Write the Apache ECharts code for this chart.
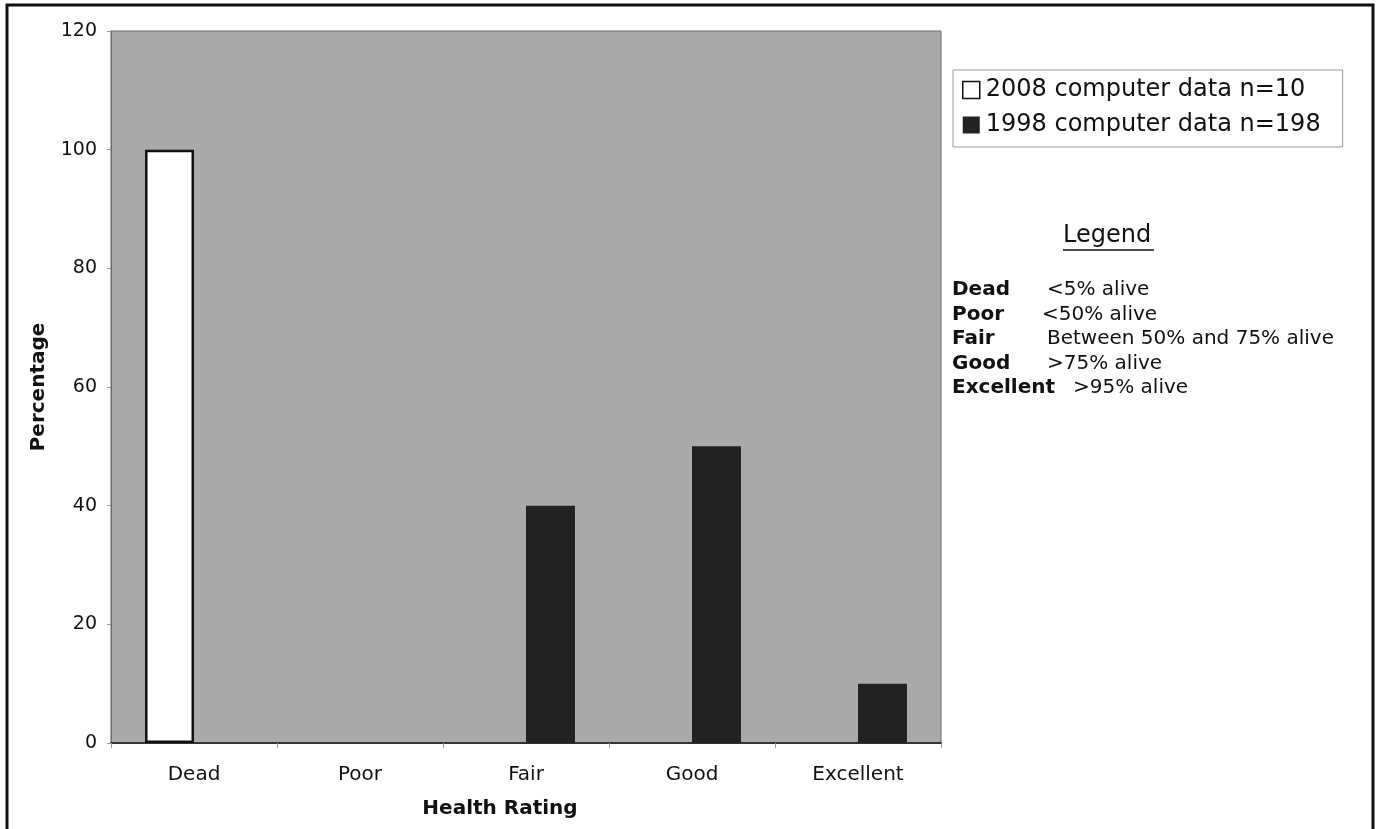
<!DOCTYPE html>
<html>
<head>
<meta charset="utf-8">
<script src="https://cdn.jsdelivr.net/npm/echarts@6/dist/echarts.min.js"></script>
<style>
  html, body { margin: 0; padding: 0; background: #ffffff; }
  #chart { width: 1379px; height: 829px; }
</style>
</head>
<body>
<div id="chart"></div>
<script>
// Health rating distribution, two survey years
const categories = ['Dead', 'Poor', 'Fair', 'Good', 'Excellent'];
const series2008 = [100, 0, 0, 0, 0];
const series1998 = [0, 0, 40, 50, 10];
const seriesNames = ['2008 computer data n=10', '1998 computer data n=198'];
const yTicks = { min: 0, max: 120, interval: 20 };

// Key explaining each rating
const ratingKey = [
  ['Dead', '<5% alive'],
  ['Poor', '<50% alive'],
  ['Fair', 'Between 50% and 75% alive'],
  ['Good', '>75% alive'],
  ['Excellent', '>95% alive']
];

const FONT = 'DejaVu Sans, Verdana, sans-serif';
const chart = echarts.init(document.getElementById('chart'));

// Outlined bars: empty (zero) bars get no outline so nothing shows at the baseline
function outlinedData(values) {
  return values.map(function (v) {
    return v === 0 ? { value: v, itemStyle: { borderWidth: 0 } } : v;
  });
}

const keyX = 952;
const keyValueX = [1047, 1042, 1047, 1047, 1073];
const keyY = [292, 317, 341, 366, 390];
const keyGraphics = [];
ratingKey.forEach(function (row, i) {
  keyGraphics.push({
    type: 'text', left: keyX, top: keyY[i] - 12,
    style: { text: row[0], font: 'bold 20px ' + FONT, fill: '#111' }
  });
  keyGraphics.push({
    type: 'text', left: keyValueX[i], top: keyY[i] - 12,
    style: { text: row[1], font: '20px ' + FONT, fill: '#111' }
  });
});

chart.setOption({
  backgroundColor: '#ffffff',
  animation: false,
  textStyle: { fontFamily: FONT },
  grid: {
    left: 111, top: 31, width: 830, height: 712,
    show: true, backgroundColor: '#aaaaaa',
    borderColor: '#6a6a6a', borderWidth: 1,
    containLabel: false
  },
  legend: {
    orient: 'vertical',
    left: 953, top: 70,
    padding: [8, 22, 10, 9],
    itemGap: 11,
    itemWidth: 17, itemHeight: 17,
    borderColor: '#999', borderWidth: 1,
    backgroundColor: '#ffffff',
    textStyle: { fontSize: 24, color: '#111', fontFamily: FONT, padding: [0, 0, 0, 1] },
    data: [
      { name: seriesNames[0], icon: 'rect', itemStyle: { color: '#ffffff', borderColor: '#111', borderWidth: 1.5 } },
      { name: seriesNames[1], icon: 'rect', itemStyle: { color: '#222222' } }
    ]
  },
  xAxis: {
    type: 'category',
    data: categories,
    name: 'Health Rating',
    nameLocation: 'middle',
    nameGap: 56,
    nameTextStyle: { fontSize: 20, fontWeight: 'bold', color: '#111', fontFamily: FONT, padding: [0, 52, 0, 0] },
    axisLine: { show: true, lineStyle: { color: '#333', width: 2 } },
    axisTick: { show: true, length: 5, lineStyle: { color: '#999' } },
    axisLabel: { fontSize: 20, color: '#111', margin: 22, fontFamily: FONT }
  },
  yAxis: {
    type: 'value',
    min: yTicks.min, max: yTicks.max, interval: yTicks.interval,
    name: 'Percentage',
    nameLocation: 'middle',
    nameGap: 62,
    nameRotate: 90,
    nameTextStyle: { fontSize: 20, fontWeight: 'bold', color: '#111', fontFamily: FONT },
    axisLine: { show: true, lineStyle: { color: '#6a6a6a' } },
    axisTick: { show: true, length: 4, lineStyle: { color: '#999' } },
    splitLine: { show: false },
    axisLabel: { fontSize: 19, color: '#111', margin: 14, fontFamily: FONT }
  },
  series: [
    {
      name: seriesNames[0], type: 'bar', data: outlinedData(series2008),
      barGap: '0%', barCategoryGap: '41%',
      itemStyle: { color: '#ffffff', borderColor: '#111', borderWidth: 2.5 }
    },
    {
      name: seriesNames[1], type: 'bar', data: series1998,
      barGap: '0%', barCategoryGap: '41%',
      itemStyle: { color: '#222222' }
    }
  ],
  graphic: [
    {
      type: 'rect', silent: true,
      shape: { x: 7, y: 5, width: 1366, height: 900 },
      style: { fill: 'none', stroke: '#111', lineWidth: 3 }
    },
    {
      type: 'text', left: 1063, top: 224,
      style: { text: 'Legend', font: '24px ' + FONT, fill: '#111' }
    },
    {
      type: 'line', silent: true,
      shape: { x1: 1063, y1: 250, x2: 1154, y2: 250 },
      style: { stroke: '#111', lineWidth: 1.5 }
    }
  ].concat(keyGraphics)
});
</script>
</body>
</html>
